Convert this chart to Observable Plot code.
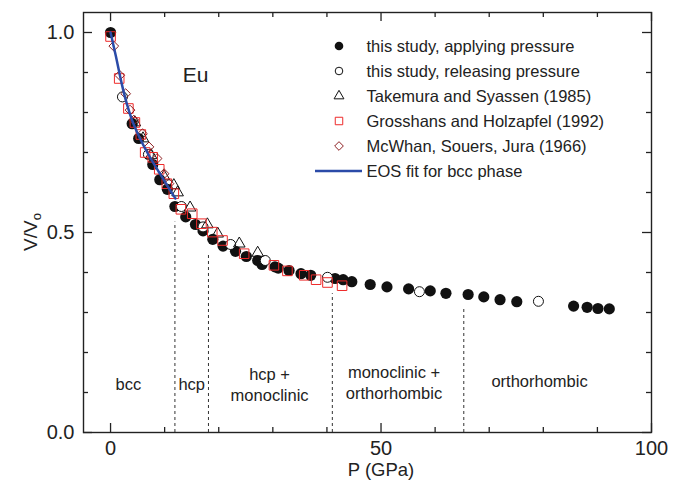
<!DOCTYPE html>
<html><head><meta charset="utf-8">
<script src="https://cdn.jsdelivr.net/npm/d3@7"></script>
<script src="https://cdn.jsdelivr.net/npm/@observablehq/plot@0.6"></script>
<style>
body{margin:0;background:#fff;}
#wrap{width:685px;height:489px;}
</style></head>
<body><div id="wrap"></div>
<script>
// ---- data ----
const applyingP = [0.0,4.0,5.2,7.8,9.1,10.5,11.9,13.9,15.7,17.1,18.9,20.8,23.1,25.1,27.2,28.0,30.4,31.0,33.0,35.2,37.0,41.5,43.0,44.6,48.0,51.1,55.1,59.1,62.0,66.1,69.0,72.0,75.1,85.6,88.1,90.1,92.2];
const applyingV = [1.000,0.772,0.735,0.670,0.632,0.608,0.565,0.539,0.520,0.504,0.483,0.466,0.453,0.440,0.430,0.420,0.414,0.411,0.405,0.397,0.393,0.385,0.382,0.377,0.370,0.364,0.359,0.354,0.348,0.345,0.339,0.332,0.327,0.316,0.313,0.310,0.309];

const releasingP = [2.2,7.0,13.1,17.1,22.2,28.6,40.1,57.1,79.1];
const releasingV = [0.839,0.695,0.565,0.514,0.470,0.430,0.388,0.352,0.328];

const takemuraP = [4.5,6.0,7.5,9.9,11.7,12.4,14.7,17.9,19.8,23.8,27.2];
const takemuraV = [0.775,0.735,0.693,0.640,0.618,0.600,0.562,0.520,0.497,0.472,0.449];

const grosshansP = [0.0,1.6,3.3,4.5,5.6,6.4,7.8,9.0,10.4,11.7,13.0,15.1,16.8,18.8,20.7,24.7,30.2,32.7,35.8,38.0,40.1,42.8];
const grosshansV = [0.990,0.885,0.810,0.775,0.745,0.700,0.688,0.658,0.622,0.597,0.558,0.547,0.522,0.501,0.480,0.447,0.418,0.404,0.393,0.382,0.375,0.367];

const mcwhanP = [0.6,1.7,2.8,3.6,4.3,5.9,7.1,8.6,9.9,10.8];
const mcwhanV = [0.966,0.893,0.847,0.806,0.781,0.747,0.714,0.685,0.647,0.622];

const eosP = [0,1,2,3,4,5,6,7,8,9,10,11,12];
const eosV = [1.000,0.940,0.876,0.822,0.780,0.748,0.720,0.695,0.672,0.650,0.628,0.606,0.585];

const boundaryP = [11.9,18.1,41.0,65.3];
const boundaryTopV = [0.526,0.443,0.347,0.311];

const phaseNames = ["bcc","hcp","hcp +\nmonoclinic","monoclinic +\northorhombic","orthorhombic"];
const phaseLabelP = [3.3,15.0,29.4,52.4,79.3];
const phaseLabelV = [0.123,0.123,0.122,0.128,0.130];

const legendLabels = ["this study, applying pressure","this study, releasing pressure","Takemura and Syassen (1985)","Grosshans and Holzapfel (1992)","McWhan, Souers, Jura (1966)","EOS fit for bcc phase"];

const xMajorTicks = [0,50,100];
const xMinorTicks = [10,20,30,40,60,70,80,90];
const yMajorTicks = [0,0.5,1.0];
const yMinorTicks = [0.1,0.2,0.3,0.4,0.6,0.7,0.8,0.9];

// ---- build tables ----
const zip = (P,V) => P.map((p,i)=>({P:p, V:V[i]}));
const applying = zip(applyingP, applyingV);
const releasing = zip(releasingP, releasingV);
const takemura = zip(takemuraP, takemuraV);
const grosshans = zip(grosshansP, grosshansV);
const mcwhan = zip(mcwhanP, mcwhanV);
const eos = zip(eosP, eosV);
const bounds = boundaryP.map((p,i)=>({P:p, Vtop:boundaryTopV[i]}));
const phases = phaseNames.map((t,i)=>({t, P:phaseLabelP[i], V:phaseLabelV[i]}));

const W=685, H=489, mL=83, mR=34, mT=12, mB=57;
const innerW=W-mL-mR, innerH=H-mT-mB;
const FONT='"Liberation Sans", Arial, Helvetica, sans-serif';
const ink="#222";
const RED="#ee2a2a", DKRED="#8e1f22", BLUE="#2b4ba8";

const plot = Plot.plot({
  width:W, height:H, marginLeft:mL, marginRight:mR, marginTop:mT, marginBottom:mB,
  x:{domain:[-5,100]},
  y:{domain:[0,1.05]},
  style:{fontFamily:FONT, fontSize:"18px", color:ink, background:"white"},
  marks:[
    Plot.ruleX(bounds, {x:"P", y1:0, y2:"Vtop", stroke:"#333", strokeWidth:1, strokeDasharray:"3,3"}),
    Plot.dot(applying, {x:"P", y:"V", r:5.6, fill:"#111", stroke:"none"}),
    Plot.dot(releasing, {x:"P", y:"V", r:5, fill:"white", stroke:"#111", strokeWidth:1}),
    Plot.dot(takemura, {x:"P", y:"V", symbol:"triangle", r:4.3, fill:"none", stroke:"#111", strokeWidth:1}),
    Plot.dot(grosshans, {x:"P", y:"V", symbol:"square", r:5.4, fill:"none", stroke:RED, strokeWidth:1}),
    Plot.dot(mcwhan, {x:"P", y:"V", symbol:d3.symbolDiamond2, r:4.4, fill:"none", stroke:DKRED, strokeWidth:1}),
    Plot.line(eos, {x:"P", y:"V", stroke:BLUE, strokeWidth:2.5, curve:"monotone-x"}),
    Plot.frame({stroke:ink, strokeWidth:1.4}),
    Plot.ruleX(xMajorTicks, {insetTop:innerH-9, stroke:ink, strokeWidth:1.3}),
    Plot.ruleX(xMajorTicks, {insetBottom:innerH-9, stroke:ink, strokeWidth:1.3}),
    Plot.ruleX(xMinorTicks, {insetTop:innerH-5, stroke:ink, strokeWidth:1.3}),
    Plot.ruleX(xMinorTicks, {insetBottom:innerH-5, stroke:ink, strokeWidth:1.3}),
    Plot.ruleY(yMajorTicks, {insetRight:innerW-9, stroke:ink, strokeWidth:1.3}),
    Plot.ruleY(yMajorTicks, {insetLeft:innerW-9, stroke:ink, strokeWidth:1.3}),
    Plot.ruleY(yMinorTicks, {insetRight:innerW-5, stroke:ink, strokeWidth:1.3}),
    Plot.ruleY(yMinorTicks, {insetLeft:innerW-5, stroke:ink, strokeWidth:1.3}),
    Plot.axisX({ticks:xMajorTicks, tickSize:0, tickPadding:8, label:null, fontSize:20}),
    Plot.axisY({ticks:yMajorTicks, tickSize:0, tickPadding:9, label:null, fontSize:20, tickFormat:d3.format(".1f")}),
    Plot.text(phases, {x:"P", y:"V", text:"t", fontSize:16.5, lineHeight:1.28, fill:ink}),
    Plot.text(["Eu"], {x:15.7, y:0.893, text:d=>d, fontSize:21, fill:ink}),
    Plot.text(["P (GPa)"], {x:50, frameAnchor:"bottom", dy:43, text:d=>d, fontSize:18.5, fill:ink})
  ]
});

const svg = d3.select(plot);
// y-axis title with subscript
const yt = svg.append("text")
  .attr("transform","translate(37,232) rotate(-90)")
  .attr("text-anchor","middle")
  .attr("font-family",FONT).attr("font-size",19).attr("fill",ink);
yt.append("tspan").text("V/V");
yt.append("tspan").attr("font-size",13).attr("dy",4).text("o");

// legend (inside plot area, upper right)
const lg = svg.append("g").attr("font-family",FONT).attr("font-size",16.5).attr("fill",ink).attr("text-anchor","start");
const cx = 339, tx = 366.5, y0 = 46, dyRow = 25;
legendLabels.forEach((lab,i)=>{
  const cy = y0 + i*dyRow;
  if (i===0) lg.append("circle").attr("cx",cx).attr("cy",cy).attr("r",4.3).attr("fill","#111");
  if (i===1) lg.append("circle").attr("cx",cx).attr("cy",cy).attr("r",3.8).attr("fill","white").attr("stroke","#111");
  if (i===2) lg.append("path").attr("transform",`translate(${cx},${cy})`).attr("d",d3.symbol(d3.symbolTriangle,42)()).attr("fill","none").attr("stroke","#111");
  if (i===3) lg.append("path").attr("transform",`translate(${cx},${cy})`).attr("d",d3.symbol(d3.symbolSquare,56)()).attr("fill","none").attr("stroke",RED);
  if (i===4) lg.append("path").attr("transform",`translate(${cx},${cy})`).attr("d",d3.symbol(d3.symbolDiamond2,48)()).attr("fill","none").attr("stroke",DKRED);
  if (i===5) lg.append("line").attr("x1",315).attr("x2",362).attr("y1",cy).attr("y2",cy).attr("stroke",BLUE).attr("stroke-width",2.5);
  lg.append("text").attr("x",tx).attr("y",cy+6).attr("text-anchor","start").text(lab);
});

document.getElementById("wrap").appendChild(plot);
</script>
</body></html>
